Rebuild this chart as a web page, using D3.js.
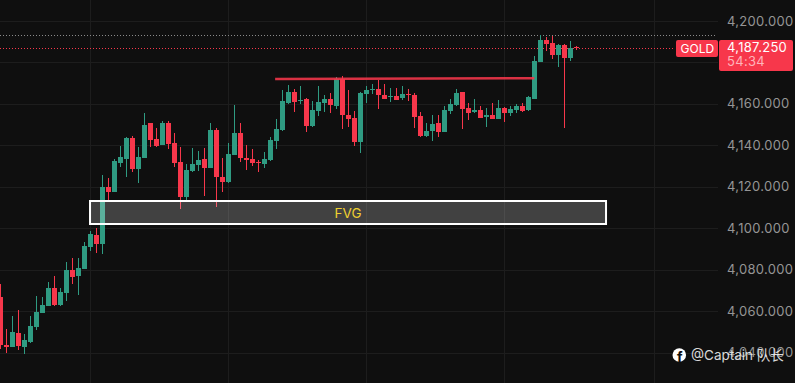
<!DOCTYPE html>
<html><head><meta charset="utf-8">
<script src="https://cdn.jsdelivr.net/npm/d3@7"></script>
<style>
html,body{margin:0;padding:0;background:#0f0f0f;overflow:hidden}
svg{display:block}
text{font-family:Inter,"Noto Sans CJK SC",sans-serif}
</style></head><body>
<svg id="c" width="795" height="383"></svg>
<script>
const opens=[4066.8,4043.7,4042.7,4049.5,4042.7,4045.1,4052.4,4059.1,4062.5,4071.2,4063.0,4068.8,4079.9,4077.0,4080.3,4091.0,4096.7,4092.4,4119.9,4117.5,4131.5,4133.4,4143.5,4128.6,4133.9,4150.8,4143.1,4140.2,4150.8,4141.1,4132.0,4115.1,4127.6,4130.5,4133.4,4129.1,4147.4,4124.7,4122.3,4135.4,4146.0,4133.9,4133.4,4132.0,4131.0,4132.9,4142.1,4147.4,4160.4,4165.7,4161.4,4162.4,4149.3,4156.6,4160.4,4162.4,4159.0,4172.0,4154.6,4153.2,4141.6,4164.8,4166.7,4167.2,4164.3,4163.3,4163.8,4162.9,4164.8,4164.3,4154.2,4144.5,4146.9,4150.8,4146.4,4156.6,4159.5,4165.7,4158.0,4156.1,4157.1,4153.7,4154.6,4152.7,4158.0,4155.6,4157.1,4159.0,4157.1,4162.4,4180.2,4190.8,4189.4,4183.6,4188.4,4182.2,4187.5];
const highs=[4073.1,4051.4,4057.7,4060.6,4049.0,4057.7,4067.3,4066.8,4074.1,4077.0,4071.2,4083.7,4085.6,4085.6,4093.4,4098.7,4100.1,4125.7,4124.2,4133.4,4139.7,4144.0,4144.5,4139.2,4155.6,4150.8,4148.4,4151.8,4151.8,4146.0,4139.2,4131.0,4138.7,4137.3,4138.7,4150.8,4148.4,4133.9,4141.1,4159.5,4150.8,4140.2,4138.2,4132.9,4136.8,4144.0,4152.7,4166.7,4169.1,4167.2,4168.6,4162.9,4161.4,4168.6,4164.3,4165.3,4173.0,4173.5,4166.7,4156.6,4165.7,4168.6,4169.6,4171.5,4169.6,4167.7,4167.7,4168.6,4167.2,4165.3,4156.1,4150.8,4154.6,4154.6,4159.0,4162.4,4167.2,4165.7,4160.4,4162.4,4159.0,4158.0,4160.4,4161.9,4158.5,4159.0,4160.0,4160.4,4163.8,4183.1,4193.2,4192.3,4192.8,4188.9,4188.9,4190.4,4187.9];
const lows=[4041.7,4039.8,4042.7,4041.3,4039.3,4044.6,4050.9,4059.1,4062.5,4062.5,4062.5,4064.9,4073.1,4067.8,4080.3,4089.0,4088.1,4087.6,4113.6,4117.5,4129.6,4124.7,4127.1,4121.8,4133.9,4139.2,4139.2,4140.2,4138.2,4129.6,4109.3,4113.2,4127.1,4127.6,4115.6,4129.1,4110.3,4117.5,4121.8,4135.4,4132.0,4128.1,4130.0,4127.1,4129.1,4132.4,4138.2,4146.9,4160.0,4156.1,4160.0,4146.4,4148.9,4154.2,4156.1,4155.6,4157.5,4147.9,4148.9,4139.7,4136.3,4160.4,4164.8,4157.5,4162.4,4160.9,4161.9,4161.9,4161.4,4148.4,4144.0,4144.0,4142.1,4144.0,4146.4,4155.1,4159.0,4147.9,4152.2,4155.6,4153.2,4148.9,4152.7,4152.7,4151.3,4154.2,4155.6,4156.1,4156.6,4162.4,4180.2,4185.5,4181.7,4177.8,4148.4,4180.7,4186.0];
const closes=[4043.7,4042.7,4049.9,4043.2,4046.1,4052.8,4059.6,4063.0,4071.2,4063.0,4069.2,4079.9,4076.5,4080.8,4091.4,4097.2,4092.4,4119.9,4117.5,4132.4,4134.4,4143.5,4128.6,4134.4,4149.8,4142.6,4139.7,4150.8,4140.7,4131.5,4115.1,4128.1,4131.0,4132.9,4129.1,4147.4,4124.7,4122.3,4135.8,4146.0,4133.9,4132.9,4131.5,4131.5,4133.4,4142.6,4147.9,4161.4,4165.7,4160.9,4161.9,4149.3,4157.1,4160.9,4162.4,4159.5,4172.0,4154.6,4152.7,4141.6,4165.3,4166.7,4167.2,4164.3,4162.4,4163.8,4161.9,4164.8,4164.3,4153.7,4144.5,4146.9,4150.3,4146.4,4157.1,4160.0,4165.3,4157.5,4155.6,4157.1,4153.2,4154.6,4152.7,4158.0,4155.6,4157.5,4159.0,4156.6,4163.3,4180.7,4190.8,4188.9,4183.6,4188.4,4182.2,4187.0,4187.25];
const yTicks=[4200,4180,4160,4140,4120,4100,4080,4060,4040];
const yLabels=[4200,4160,4140,4120,4100,4080,4060,4040];
const timeGridIdx=[15,38,61,84,109];
const lastPrice=4187.25, highLine=4193.3, countdown="54:34", symbol="GOLD";
const fvgPrices=[4113.15,4102.05], fvgIdx=[14.95,100.95], fvgLabel="FVG";
const resIdx=[45.8,89.0], resPrices=[4172.0,4172.4];
const watermark="@Captain 队长";

const UP="#2f9b82",DOWN="#f7374b",GRID="#1d1d1d";
const W=795,H=383,plotR=718;
const svg=d3.select("#c");
const x=d3.scaleLinear().domain([0,1]).range([0.33,6.33]);
const y=d3.scaleLinear().domain([4200,4100]).range([21,228.25]);
const px=v=>Math.round(v);
svg.append("rect").attr("width",W).attr("height",H).attr("fill","#0f0f0f");
// grid
svg.append("g").selectAll("line").data(yTicks).join("line")
 .attr("x1",0).attr("x2",plotR).attr("y1",d=>px(y(d))+.5).attr("y2",d=>px(y(d))+.5)
 .attr("stroke",GRID);
svg.append("g").selectAll("line").data(timeGridIdx).join("line")
 .attr("x1",d=>Math.floor(x(d))+.5).attr("x2",d=>Math.floor(x(d))+.5).attr("y1",0).attr("y2",H)
 .attr("stroke",GRID);
// price lines
svg.append("line").attr("x1",0).attr("x2",716).attr("y1",px(y(highLine))+.5).attr("y2",px(y(highLine))+.5)
 .attr("stroke","#8a8a8a").attr("stroke-dasharray","1 2");
svg.append("line").attr("x1",0).attr("x2",675).attr("y1",48.5).attr("y2",48.5)
 .attr("stroke",DOWN).attr("stroke-dasharray","1 2");
// candles
const candles=d3.range(opens.length);
const g=svg.append("g");
candles.forEach(i=>{
 const c=closes[i]>=opens[i]?UP:DOWN;
 const cx=Math.floor(x(i));
 g.append("rect").attr("x",cx).attr("width",1)
  .attr("y",px(y(highs[i]))).attr("height",Math.max(1,px(y(lows[i]))-px(y(highs[i])))).attr("fill",c);
 const t=px(y(Math.max(opens[i],closes[i]))),b=px(y(Math.min(opens[i],closes[i])));
 g.append("rect").attr("x",cx-2).attr("width",5)
  .attr("y",t).attr("height",Math.max(1,b-t)).attr("fill",c);
});
// resistance line
svg.append("line").attr("x1",x(resIdx[0])).attr("x2",x(resIdx[1]))
 .attr("y1",y(resPrices[0])).attr("y2",y(resPrices[1]))
 .attr("stroke",DOWN).attr("stroke-opacity",.88).attr("stroke-width",2.4);
// FVG
const fx0=x(fvgIdx[0]),fx1=x(fvgIdx[1]),fy0=y(fvgPrices[0]),fy1=y(fvgPrices[1]);
svg.append("rect").attr("x",fx0).attr("y",fy0).attr("width",fx1-fx0).attr("height",fy1-fy0)
 .attr("fill","#fff").attr("fill-opacity",.21).attr("stroke","#fff").attr("stroke-width",2);
svg.append("text").attr("x",(fx0+fx1)/2).attr("y",(fy0+fy1)/2+5.5).attr("text-anchor","middle")
 .attr("font-size",13.5).attr("fill","#f0d030").text(fvgLabel);
// axis labels
const fmt=d3.format(",.3f");
svg.append("g").selectAll("text").data(yLabels).join("text")
 .attr("x",727).attr("y",d=>y(d)+4.5).attr("font-size",13).attr("letter-spacing",.3)
 .attr("fill","#959595").text(fmt);
// price tag
svg.append("rect").attr("x",719).attr("y",40).attr("width",74).attr("height",31).attr("rx",2).attr("fill",DOWN);
svg.append("text").attr("x",727).attr("y",52).attr("font-size",13).attr("letter-spacing",.3).attr("fill","#fff").text(fmt(lastPrice));
svg.append("text").attr("x",727).attr("y",66).attr("font-size",13).attr("letter-spacing",.3).attr("fill","#ffb3ba").text(countdown);
svg.append("rect").attr("x",676).attr("y",40).attr("width",42).attr("height",17).attr("rx",2).attr("fill",DOWN);
svg.append("text").attr("x",680.5).attr("y",53).attr("font-size",12).attr("fill","#fff").text(symbol);
// watermark
svg.append("circle").attr("cx",679.3).attr("cy",355).attr("r",6.8).attr("fill","#fff");
svg.append("text").attr("x",677).attr("y",362).attr("font-size",14).attr("font-weight",700).attr("fill","#0f0f0f").text("f");
svg.append("text").attr("x",691).attr("y",359.5).attr("font-size",13.5).attr("fill","#fff").attr("fill-opacity",.85).text(watermark);
</script></body></html>
